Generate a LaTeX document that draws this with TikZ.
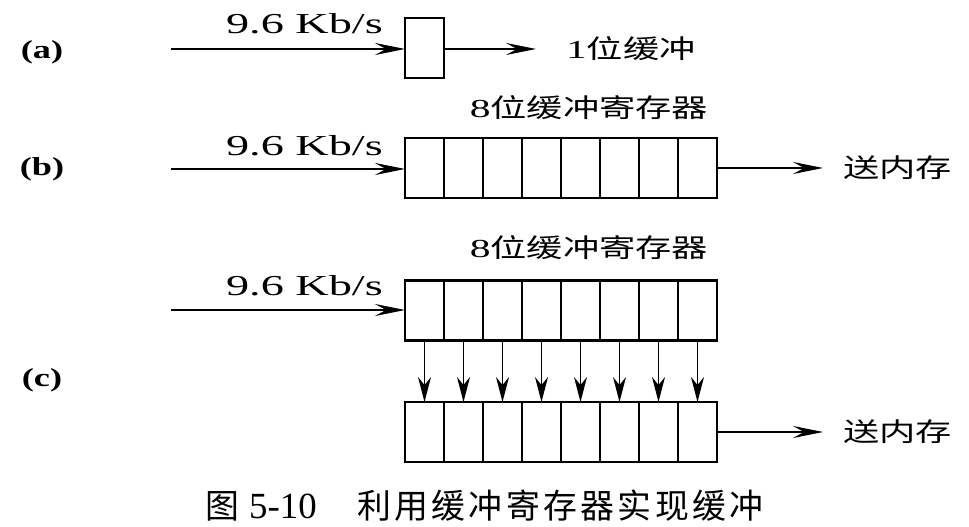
\documentclass[tikz,border=0pt]{standalone}
\usepackage{fontspec}
\setmainfont{Liberation Serif}
\newfontfamily\lat[FakeStretch=1.6]{Liberation Serif}
\newfontfamily\latp[FakeStretch=1.4]{Liberation Serif}
\newfontfamily\cjk[FakeStretch=1.4]{Noto Sans CJK SC}
\newfontfamily\capcjk[LetterSpace=10]{Noto Sans CJK SC}
\usetikzlibrary{arrows.meta}
\tikzset{
  cell/.style={draw, line width=2.7bp, minimum width=39bp, minimum height=60bp, inner sep=0pt, outer sep=0pt},
  flow/.style={line width=1.4bp, -{Stealth[length=30bp,width=12bp,inset=11bp]}},
  down/.style={line width=1.4bp, -{Stealth[length=25bp,width=13bp,inset=8bp]}},
  rate/.style={anchor=east, inner sep=0pt, font=\lat\fontsize{29}{31}\selectfont},
  part/.style={inner sep=0pt, font=\latp\bfseries\fontsize{26}{28}\selectfont},
  cn/.style={inner sep=0pt, font=\cjk\fontsize{26}{28}\selectfont},
}
\begin{document}
\begin{tikzpicture}[x=1bp,y=-1bp]
\useasboundingbox (0,0) rectangle (969,527);
% part labels
\node[part] (la) at (42,52) {(a)};
\node[part] (lb) at (42,169) {(b)};
\node[part] (lc) at (42,380) {(c)};
% (a)
\node[cell] (a1) at (424.5,48) {};
\coordinate (ain) at (171,49);
\coordinate (aout) at (536,49);
\draw[flow] (ain) -- (a1.west |- ain);
\draw[flow] (a1.east |- aout) -- (aout);
\node[rate] (ra) at (383,24) {9.6 Kb/s};
\node[cn, anchor=west] (ta) at (566,49) {{\lat 1}位缓冲};
% (b)
\foreach \i in {1,...,8}{
  \node[cell] (b\i) at ({405+39*(\i-0.5)},168) {};
}
\coordinate (bin) at (171,169);
\coordinate (bout) at (823,168);
\draw[flow] (bin) -- (b1.west |- bin);
\draw[flow] (b8.east |- bout) -- (bout);
\node[rate] (rb) at (383,146) {9.6 Kb/s};
\node[cn] (tb) at (589,108) {{\lat 8}位缓冲寄存器};
\node[cn, anchor=west] (ob) at (843,168) {送内存};
% (c)
\foreach \i in {1,...,8}{
  \node[cell] (c\i) at ({405+39*(\i-0.5)},310.5) {};
  \node[cell] (d\i) at ({405+39*(\i-0.5)},432) {};
  \draw[down] (c\i.south) -- (d\i.north);
}
\coordinate (cin) at (171,310);
\coordinate (cout) at (823,432);
\draw[flow] (cin) -- (c1.west |- cin);
\draw[flow] (d8.east |- cout) -- (cout);
\node[rate] (rc) at (383,286) {9.6 Kb/s};
\node[cn] (tc) at (589,248) {{\lat 8}位缓冲寄存器};
\node[cn, anchor=west] (oc) at (843,432) {送内存};
% caption
\node[inner sep=0pt, anchor=west, font=\fontsize{37}{39}\selectfont] (cap) at (205,506)
  {\makebox[44bp][l]{\capcjk\fontsize{34}{36}\selectfont 图}\makebox[108bp][l]{5-10}{\capcjk\fontsize{34}{36}\selectfont 利用缓冲寄存器实现缓冲}};
\end{tikzpicture}
\end{document}
